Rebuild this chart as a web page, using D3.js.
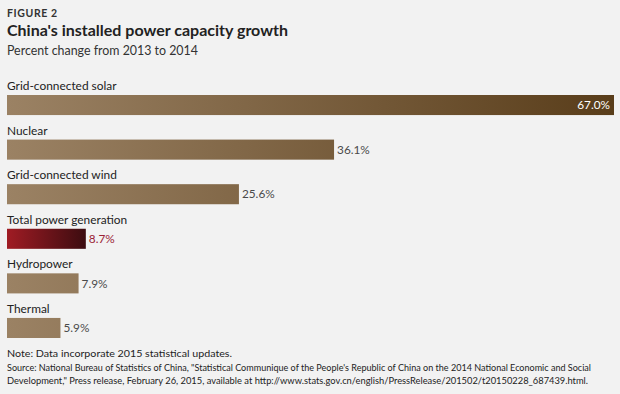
<!DOCTYPE html>
<html>
<head>
<meta charset="utf-8">
<script src="https://cdn.jsdelivr.net/npm/d3@7"></script>
<style>
  html, body { margin: 0; padding: 0; background: #f2f2f2; }
  svg { display: block; font-family: Lato, sans-serif; }
</style>
</head>
<body>
<div id="chart"></div>
<script>
const categories = ['Grid-connected solar', 'Nuclear', 'Grid-connected wind', 'Total power generation', 'Hydropower', 'Thermal'];
const values = [67.0, 36.1, 25.6, 8.7, 7.9, 5.9];
const highlight = 'Total power generation';

const noteLines = [
    'Note: Data incorporate 2015 statistical updates.',
    'Source: National Bureau of Statistics of China, "Statistical Communique of the People\'s Republic of China on the 2014 National Economic and Social',
    'Development," Press release, February 26, 2015, available at http://www.stats.gov.cn/english/PressRelease/201502/t20150228_687439.html.'
];

const width = 620;
const height = 394;

const svg = d3.select('#chart')
    .append('svg')
    .attr('width', width)
    .attr('height', height);

svg.append('rect')
    .attr('width', width)
    .attr('height', height)
    .attr('fill', '#f2f2f2');

const defs = svg.append('defs');

const brown = defs.append('linearGradient')
    .attr('id', 'brown')
    .attr('gradientUnits', 'userSpaceOnUse')
    .attr('x1', 7).attr('x2', 614).attr('y1', 0).attr('y2', 0);
brown.append('stop').attr('offset', '0%').attr('stop-color', '#9b8264');
brown.append('stop').attr('offset', '100%').attr('stop-color', '#593d1a');

const red = defs.append('linearGradient')
    .attr('id', 'red')
    .attr('x1', 0).attr('x2', 1).attr('y1', 0).attr('y2', 0);
red.append('stop').attr('offset', '0%').attr('stop-color', '#a01c24');
red.append('stop').attr('offset', '100%').attr('stop-color', '#3c0c10');

// titles
svg.append('text')
    .attr('x', 7).attr('y', 17)
    .attr('font-size', 10.5)
    .attr('font-weight', 'bold')
    .attr('letter-spacing', 0.6)
    .attr('fill', '#333')
    .text('FIGURE 2');

svg.append('text')
    .attr('x', 7).attr('y', 36)
    .attr('font-size', 16)
    .attr('font-weight', 'bold')
    .attr('fill', '#222')
    .text("China's installed power capacity growth");

svg.append('text')
    .attr('x', 7).attr('y', 55)
    .attr('font-size', 12.4)
    .attr('fill', '#333')
    .text('Percent change from 2013 to 2014');

const x = d3.scaleLinear()
    .domain([0, 67])
    .range([7, 614]);

const y = d3.scaleBand()
    .domain(categories)
    .range([95, 338])
    .paddingInner(0.55)
    .paddingOuter(0);

const data = categories.map((c, i) => ({ name: c, value: values[i] }));

const rows = svg.selectAll('.row')
    .data(data)
    .enter().append('g')
    .attr('class', 'row');

rows.append('text')
    .attr('x', 7)
    .attr('y', d => y(d.name) - 5)
    .attr('font-size', 11.9)
    .attr('fill', '#222')
    .text(d => d.name);

rows.append('rect')
    .attr('x', x(0))
    .attr('y', d => y(d.name))
    .attr('width', d => x(d.value) - x(0))
    .attr('height', y.bandwidth())
    .attr('fill', d => d.name === highlight ? 'url(#red)' : 'url(#brown)');

rows.append('text')
    .attr('x', d => d.value > 50 ? x(d.value) - 4 : x(d.value) + 3)
    .attr('y', d => y(d.name) + y.bandwidth() / 2)
    .attr('dy', '0.36em')
    .attr('text-anchor', d => d.value > 50 ? 'end' : 'start')
    .attr('font-size', 11.8)
    .attr('fill', d => d.value > 50 ? '#fff' : (d.name === highlight ? '#9b2335' : '#4a4a4a'))
    .text(d => d.value.toFixed(1) + '%');

// notes, stretched to the reference line widths
const noteWidths = [225, 584, 581];
svg.selectAll('.note')
    .data(noteLines)
    .enter().append('text')
    .attr('class', 'note')
    .attr('x', 7)
    .attr('y', (d, i) => i === 0 ? 357 : 371 + (i - 1) * 13)
    .attr('font-size', 9.5)
    .attr('fill', '#222')
    .attr('textLength', (d, i) => noteWidths[i])
    .attr('lengthAdjust', 'spacingAndGlyphs')
    .text(d => d);
</script>
</body>
</html>
